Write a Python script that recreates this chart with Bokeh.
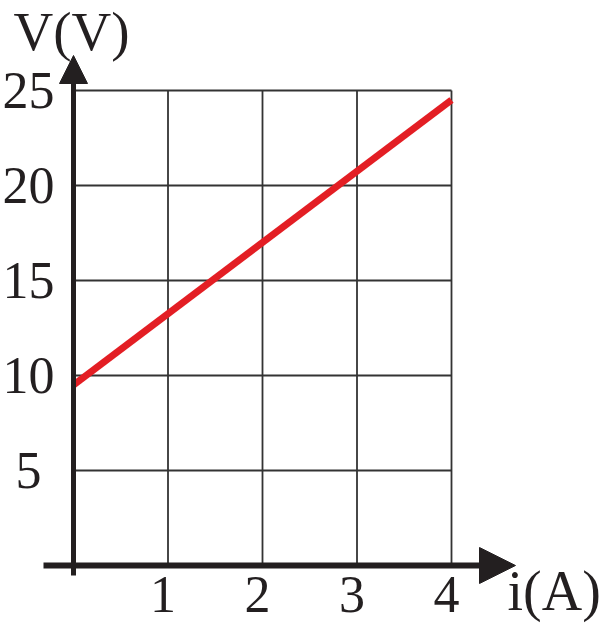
from bokeh.plotting import figure
from bokeh.models import Range1d, Arrow, NormalHead
from bokeh.core.properties import value
from bokeh.embed import file_html
from bokeh.resources import INLINE

# data
current = [0, 4]          # i (A)
voltage = [9.5, 24.5]     # V (V)
x_ticks = [1, 2, 3, 4]
x_tick_labels = ["1", "2", "3", "4"]
y_ticks = [5, 10, 15, 20, 25]
y_tick_labels = ["5", "10", "15", "20", "25"]
x_label = "i(A)"
y_label = "V(V)"

W, H = 603, 623
XS, YS = 94.5, 19.0          # pixels per data unit
x0 = -73 / XS
y1 = 25 + 90 / YS

p = figure(width=W, height=H, output_backend="svg", toolbar_location=None,
           x_range=Range1d(x0, x0 + W / XS), y_range=Range1d(y1 - H / YS, y1),
           min_border=0, outline_line_color=None, background_fill_color="white")
p.axis.visible = False
p.grid.visible = False

dark = "#231f20"
grid_color = "#333333"
font = value("Liberation Serif")

xmax = x_ticks[-1]
ymax = y_ticks[-1]

# grid
p.segment(x0=x_ticks, y0=[0] * len(x_ticks), x1=x_ticks, y1=[ymax] * len(x_ticks),
          line_color=grid_color, line_width=1.8)
p.segment(x0=[0] * len(y_ticks), y0=y_ticks, x1=[xmax] * len(y_ticks), y1=y_ticks,
          line_color=grid_color, line_width=1.8)

# data line
p.line(current, voltage, line_color="#e31e24", line_width=7)

# axes with arrows
p.add_layout(Arrow(x_start=-30 / XS, y_start=0, x_end=xmax + 64 / XS, y_end=0,
                   line_color=dark, line_width=6,
                   end=NormalHead(size=36, fill_color=dark, line_color=dark, line_width=1)))
p.add_layout(Arrow(x_start=0, y_start=-10 / YS, x_end=0, y_end=ymax + 35 / YS,
                   line_color=dark, line_width=5,
                   end=NormalHead(size=28, fill_color=dark, line_color=dark, line_width=1)))

# tick labels
p.text(x=[t - 5 / XS for t in x_ticks], y=[-29 / YS] * len(x_ticks), text=x_tick_labels,
       text_font=font, text_font_size="52px", text_color=dark,
       text_align="center", text_baseline="middle")
p.text(x=[-45 / XS] * len(y_ticks), y=y_ticks, text=y_tick_labels,
       text_font=font, text_font_size="52px", text_color=dark,
       text_align="center", text_baseline="middle")

# axis titles
p.text(x=[-60 / XS], y=[ymax + 59 / YS], text=[y_label], text_font=font,
       text_font_size="55px", text_color=dark, text_align="left", text_baseline="middle")
p.text(x=[xmax + 56 / XS], y=[-25 / YS], text=[x_label], text_font=font,
       text_font_size="56px", text_color=dark, text_align="left", text_baseline="middle")

open("out.html", "w").write(file_html(p, INLINE))
